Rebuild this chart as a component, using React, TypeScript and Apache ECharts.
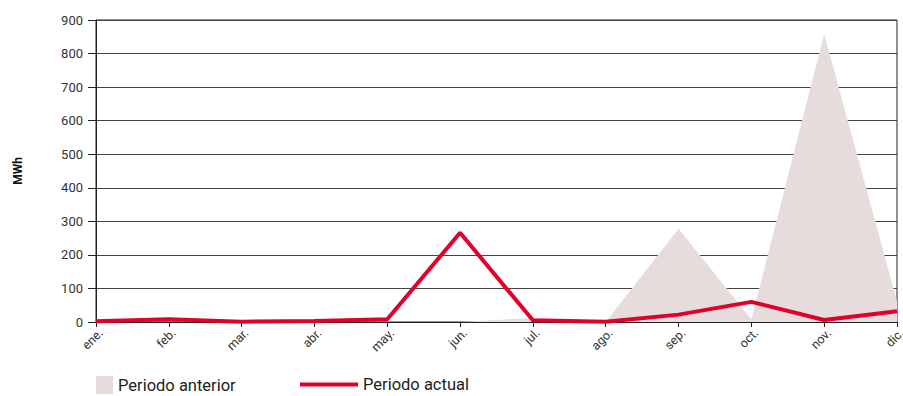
import React, { useEffect, useRef } from "react";
import * as echarts from "echarts";

const months = ["ene.", "feb.", "mar.", "abr.", "may.", "jun.", "jul.", "ago.", "sep.", "oct.", "nov.", "dic."];
const periodoAnterior = [0, 0, 0, 0, 0, 0, 12, 0, 278, 8, 858, 62];
const periodoActual = [2, 8, 1, 3, 8, 266, 5, 1, 22, 60, 6, 32];
const yTicks = [0, 100, 200, 300, 400, 500, 600, 700, 800, 900];

const FONT = "Roboto, 'Liberation Sans', sans-serif";

export default function App() {
  const ref = useRef<HTMLDivElement>(null);
  useEffect(() => {
    const chart = echarts.init(ref.current!, undefined, { renderer: "svg" });
    chart.setOption({
      animation: false,
      backgroundColor: "#ffffff",
      grid: { left: 96, right: 6, top: 20, bottom: 74, show: true, borderColor: "#222", borderWidth: 1, backgroundColor: "transparent", containLabel: false, outerBoundsMode: "none" },
      legend: [
        {
          data: [{ name: "Periodo anterior", icon: "rect" }],
          left: 96, top: 376, itemWidth: 17, itemHeight: 18, itemGap: 5, padding: 0,
          textStyle: { fontFamily: FONT, fontSize: 16.5, color: "#222" },
        },
        {
          data: [{ name: "Periodo actual", icon: "rect" }],
          left: 300, top: 376, itemWidth: 58, itemHeight: 4, itemGap: 5, padding: 0,
          textStyle: { fontFamily: FONT, fontSize: 16.5, color: "#222" },
        },
      ],
      xAxis: {
        type: "category",
        data: months,
        boundaryGap: false,
        axisLine: { lineStyle: { color: "#222", width: 1 } },
        axisTick: { show: true, length: 5, alignWithLabel: true, lineStyle: { color: "#222" } },
        axisLabel: { rotate: 45, fontFamily: FONT, fontSize: 12.5, color: "#333", margin: 4, interval: 0, verticalAlign: "top" },
        splitLine: { show: false },
      },
      yAxis: {
        type: "value",
        min: 0,
        max: 900,
        interval: 100,
        name: "MWh",
        nameLocation: "middle",
        nameGap: 72,
        nameRotate: 90,
        nameTextStyle: { fontFamily: FONT, fontSize: 12, fontWeight: "bold", color: "#111" },
        axisLine: { show: true, lineStyle: { color: "#222" } },
        axisTick: { show: true, length: 8, lineStyle: { color: "#222" } },
        axisLabel: { fontFamily: FONT, fontSize: 13, color: "#333", margin: 13, formatter: (v: number) => (yTicks.includes(v) ? String(v) : "") },
        splitLine: { show: true, lineStyle: { color: "#444", width: 1 } },
      },
      series: [
        {
          name: "Periodo anterior",
          type: "line",
          data: periodoAnterior,
          symbol: "none",
          lineStyle: { width: 0, color: "#e6dcdb" },
          itemStyle: { color: "#e6dcdb" },
          areaStyle: { color: "#e6dcdb", opacity: 1 },
          z: 1,
        },
        {
          name: "Periodo actual",
          type: "line",
          data: periodoActual,
          symbol: "none",
          lineStyle: { width: 4, color: "#e2002b" },
          itemStyle: { color: "#e2002b" },
          z: 3,
        },
      ],
    });
    return () => chart.dispose();
  }, []);
  return <div ref={ref} style={{ width: 903, height: 396, position: "absolute", left: 0, top: 0 }} />;
}
